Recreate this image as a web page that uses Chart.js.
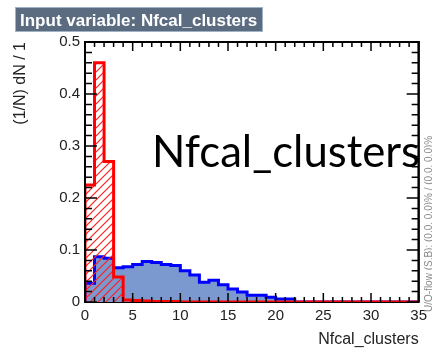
<!DOCTYPE html>
<html>
<head>
<meta charset="utf-8">
<script src="https://cdn.jsdelivr.net/npm/chart.js@4.4.1/dist/chart.umd.min.js"></script>
<style>
  html, body { margin: 0; padding: 0; background: #fff; }
</style>
</head>
<body>
<canvas id="myChart" width="432" height="352"></canvas>
<script>
// Nfcal_clusters distribution, unit-wide bins from 0 to 35
const binWidth = 1;
const signal = [0.036, 0.087, 0.084, 0.066, 0.068, 0.072, 0.078, 0.076, 0.072, 0.070,
                0.060, 0.052, 0.038, 0.042, 0.033, 0.025, 0.019, 0.013, 0.013, 0.009,
                0.006, 0.006, 0, 0, 0, 0, 0, 0, 0, 0, 0, 0, 0, 0, 0];
const background = [0.225, 0.46, 0.27, 0.048, 0.004, 0.003, 0.002, 0.001, 0.001, 0.001,
                    0, 0, 0, 0, 0, 0, 0, 0, 0, 0, 0, 0, 0, 0, 0, 0, 0, 0, 0, 0, 0, 0, 0, 0, 0];
const xTicks = [0, 5, 10, 15, 20, 25, 30, 35];
const xTickLabels = ['0', '5', '10', '15', '20', '25', '30', '35'];
const yTicks = [0, 0.1, 0.2, 0.3, 0.4, 0.5];
const yTickLabels = ['0', '0.1', '0.2', '0.3', '0.4', '0.5'];

// turn bin contents into a closed step outline
function histPoints(values) {
    const pts = [{ x: 0, y: 0 }];
    values.forEach((v, i) => pts.push({ x: i * binWidth, y: v }));
    pts.push({ x: values.length * binWidth, y: 0 });
    return pts;
}

function hatchPattern() {
    const c = document.createElement('canvas');
    c.width = 8; c.height = 8;
    const g = c.getContext('2d');
    g.strokeStyle = '#ff2020';
    g.lineWidth = 1.2;
    g.beginPath();
    g.moveTo(-1, 9); g.lineTo(9, -1);
    g.moveTo(-1, 1); g.lineTo(1, -1);
    g.moveTo(7, 9); g.lineTo(9, 7);
    g.stroke();
    return g.createPattern(c, 'repeat');
}

const tickFont = { family: 'Liberation Sans', size: 15 };
const titleFont = { family: 'Liberation Sans', size: 16 };

// frame with inward ROOT-style ticks, header box and side texts
const rootFrame = {
    id: 'rootFrame',
    beforeDatasetsDraw(chart) {
        const { ctx, chartArea: a } = chart;
        ctx.save();
        ctx.strokeStyle = '#000';
        ctx.lineWidth = 2;
        ctx.strokeRect(a.left, a.top, a.right - a.left, a.bottom - a.top);
        ctx.restore();
    },
    afterDatasetsDraw(chart) {
        const { ctx, chartArea: a, scales: { x, y } } = chart;
        ctx.save();
        ctx.strokeStyle = '#000';
        ctx.lineWidth = 2;
        ctx.beginPath();
        ctx.moveTo(a.left, a.bottom); ctx.lineTo(a.left, a.top);
        ctx.lineTo(a.right, a.top); ctx.lineTo(a.right, a.bottom);
        ctx.stroke();

        ctx.lineWidth = 1.5;
        ctx.beginPath();
        for (let k = 0; k <= 35; k++) {
            const px = x.getPixelForValue(k);
            const len = k % 5 === 0 ? 9 : 5;
            ctx.moveTo(px, a.bottom); ctx.lineTo(px, a.bottom - len);
            ctx.moveTo(px, a.top); ctx.lineTo(px, a.top + len);
        }
        for (let k = 0; k <= 25; k++) {
            const py = y.getPixelForValue(k * 0.02);
            const len = k % 5 === 0 ? 12 : 7;
            ctx.moveTo(a.left, py); ctx.lineTo(a.left + len, py);
            ctx.moveTo(a.right, py); ctx.lineTo(a.right - len, py);
        }
        ctx.stroke();
        ctx.restore();
    },
    afterDraw(chart) {
        const ctx = chart.ctx;
        ctx.save();
        // header box
        ctx.fillStyle = '#5b6c80';
        ctx.fillRect(15, 7, 248, 25);
        ctx.strokeStyle = '#9fb2c6';
        ctx.lineWidth = 1;
        ctx.strokeRect(15.5, 7.5, 247, 24);
        ctx.fillStyle = '#fff';
        ctx.font = 'bold 17px "Liberation Sans"';
        ctx.textBaseline = 'alphabetic';
        ctx.fillText('Input variable: Nfcal_clusters', 20, 26);

        // under/overflow note along the right edge
        ctx.save();
        ctx.translate(429, 312);
        ctx.rotate(-Math.PI / 2);
        ctx.fillStyle = '#8a8a8a';
        ctx.font = '10px "Liberation Sans"';
        ctx.textBaseline = 'middle';
        ctx.fillText('U/O-flow (S,B): (0.0, 0.0)% / (0.0, 0.0)%', 0, 0);
        ctx.restore();

        // large caption over the plot
        ctx.fillStyle = '#000';
        ctx.font = '40px Lato';
        const w = ctx.measureText('Nfcal_clusters').width;
        const size = 40 * 268 / w;
        ctx.font = size.toFixed(1) + 'px Lato';
        ctx.fillText('Nfcal_clusters', 152, 167);
        ctx.restore();
    }
};

const ctx = document.getElementById('myChart').getContext('2d');
const myChart = new Chart(ctx, {
    type: 'line',
    data: {
        datasets: [{
            label: 'Background',
            data: histPoints(background),
            stepped: true,
            borderColor: '#ff0000',
            borderWidth: 3,
            backgroundColor: hatchPattern(),
            fill: 'origin',
            pointRadius: 0
        }, {
            label: 'Signal',
            data: histPoints(signal),
            stepped: true,
            borderColor: '#0000ff',
            borderWidth: 3,
            backgroundColor: '#7b98cf',
            fill: 'origin',
            pointRadius: 0
        }]
    },
    options: {
        responsive: false,
        animation: false,
        layout: { padding: { top: 42, right: 13, left: 0, bottom: 0 } },
        plugins: { legend: { display: false }, tooltip: { enabled: false } },
        scales: {
            x: {
                type: 'linear',
                min: 0,
                max: 35,
                grid: { display: false, drawTicks: false },
                border: { display: false },
                afterBuildTicks: s => { s.ticks = xTicks.map(v => ({ value: v })); },
                ticks: {
                    padding: 5,
                    color: '#222',
                    font: tickFont,
                    maxRotation: 0,
                    autoSkip: false,
                    callback: (v, i) => xTickLabels[i]
                },
                title: {
                    display: true,
                    text: 'Nfcal_clusters',
                    align: 'end',
                    color: '#222',
                    font: titleFont,
                    padding: { top: 0, bottom: 3 }
                },
                afterFit: s => { s.height = 50; }
            },
            y: {
                min: 0,
                max: 0.5,
                grid: { display: false, drawTicks: false },
                border: { display: false },
                afterBuildTicks: s => { s.ticks = yTicks.map(v => ({ value: v })); },
                ticks: {
                    padding: 5,
                    color: '#222',
                    font: tickFont,
                    callback: (v, i) => yTickLabels[i]
                },
                title: {
                    display: true,
                    text: '(1/N) dN / 1',
                    align: 'end',
                    color: '#222',
                    font: titleFont,
                    padding: { top: 11, bottom: 0 }
                },
                afterFit: s => { s.width = 85; }
            }
        }
    },
    plugins: [rootFrame]
});
</script>
</body>
</html>
